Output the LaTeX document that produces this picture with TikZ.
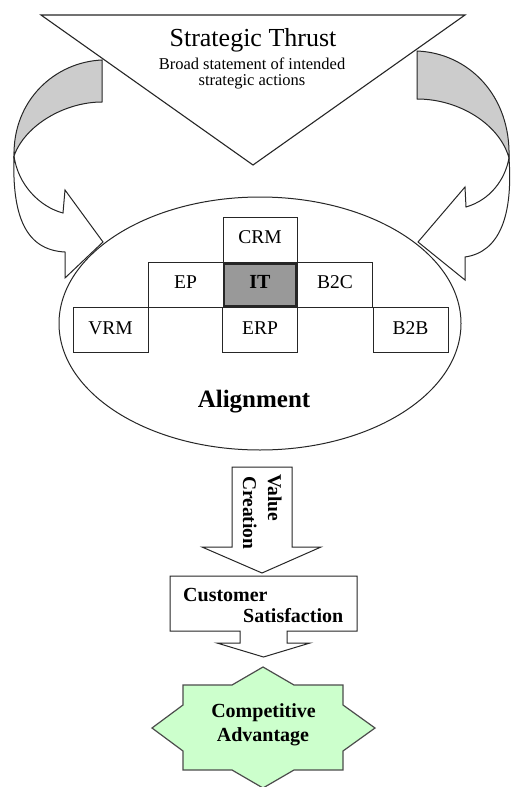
\documentclass[tikz,border=0pt]{standalone}
\usepackage{fontspec}
\setmainfont{Liberation Serif}
\usetikzlibrary{shapes.geometric}
\definecolor{starfill}{HTML}{CCFFCC}
\definecolor{itfill}{HTML}{999999}
\definecolor{facefill}{HTML}{CCCCCC}
\definecolor{edge}{HTML}{262626}
\tikzset{
  ln/.style={draw=edge, line width=1pt, line join=miter},
  cell/.style={draw=edge, line width=1pt, fill=white, minimum width=75pt, minimum height=45pt,
    inner sep=0pt, text height=13pt, text depth=5pt, font=\fontsize{19.5}{22}\selectfont},
  bold20/.style={font=\bfseries\fontsize{20}{22}\selectfont},
}
\begin{document}
\begin{tikzpicture}[x=1pt,y=-1pt]
\useasboundingbox (0,0) rectangle (512,787);

% Strategic thrust triangle
\draw[ln, fill=white, line width=1.1pt] (41,15) -- (465,15) -- (253,165) -- cycle;
\node[anchor=base, inner sep=0pt, font=\fontsize{26}{28}\selectfont] (st) at (253,46) {Strategic Thrust};
\node[anchor=base, inner sep=0pt, font=\fontsize{16.5}{18}\selectfont] (bs1) at (252,69) {Broad statement of intended};
\node[anchor=base, inner sep=0pt, font=\fontsize{16.5}{18}\selectfont] (bs2) at (252,85) {strategic actions};

% Alignment ellipse
\node[ellipse, draw=edge, line width=1pt, fill=white, minimum width=402pt, minimum height=253pt, inner sep=0pt] (ell) at (260,323.5) {};

% left curved arrow
\draw[ln, fill=white] (14,156) .. controls (12,215) and (25,250) .. (65,252) -- (65,278) -- (103,242) -- (65,190) -- (63,213) .. controls (40,207) and (18,185) .. (14,156) -- cycle;
\draw[ln, fill=facefill] (102,60) .. controls (55,62) and (13,100) .. (14,156) .. controls (25,125) and (65,102) .. (102,102) -- cycle;

% right curved arrow
\draw[ln, fill=white] (509,158) .. controls (513,215) and (500,252) .. (465,257) -- (465,280) -- (418,242) -- (465,187) -- (466,207) .. controls (490,200) and (505,180) .. (509,158) -- cycle;
\draw[ln, fill=facefill] (417,51) .. controls (468,53) and (511,95) .. (509,158) .. controls (500,125) and (460,99) .. (417,99) -- cycle;

% boxes
\node[cell, minimum width=74pt] (crm) at (260,239.5) {CRM};
\node[cell] (ep)  at (185.5,284.5) {EP};
\node[cell] (b2c) at (335,284.5) {B2C};
\node[cell] (vrm) at (110.5,330) {VRM};
\node[cell] (erp) at (260,330) {ERP};
\node[cell] (b2b) at (410.5,330) {B2B};
\node[cell, fill=itfill, line width=2.5pt, minimum width=72.5pt, minimum height=42.5pt, font=\bfseries\fontsize{20}{22}\selectfont] (it) at (260,284.5) {IT};

\node[anchor=base, inner sep=0pt, font=\bfseries\fontsize{25}{28}\selectfont] (al) at (254,407) {Alignment};

% value creation arrow
\draw[ln, fill=white] (232,467) -- (292,467) -- (292,547) -- (321,547) -- (262,573) -- (202,547) -- (232,547) -- cycle;
\node[rotate=-90, anchor=base west, inner sep=0pt, font=\bfseries\fontsize{19.5}{22}\selectfont] (vc1) at (268,474) {Value};
\node[rotate=-90, anchor=base west, inner sep=0pt, font=\bfseries\fontsize{19.5}{22}\selectfont] (vc2) at (243,476) {Creation};

% customer satisfaction callout
\draw[ln, fill=white] (170,576) -- (357,576) -- (357,631) -- (287,631) -- (287,643) -- (310,643) -- (263.5,657) -- (217,643) -- (240,643) -- (240,631) -- (170,631) -- cycle;
\node[anchor=base west, inner sep=0pt, bold20] (cs1) at (183,601) {Customer};
\node[anchor=base west, inner sep=0pt, bold20] (cs2) at (243,622) {Satisfaction};

% competitive advantage star
\draw[draw=black!70, line width=1.2pt, line join=miter, fill=starfill] (263,667) -- (294,685) -- (343,685) -- (343,705) -- (375,728) -- (343,751) -- (343,770) -- (294,770) -- (263,788) -- (232,770) -- (183,770) -- (183,751) -- (152,728) -- (183,705) -- (183,685) -- (232,685) -- cycle;
\node[anchor=base, inner sep=0pt, bold20] (ca1) at (263.5,717) {Competitive};
\node[anchor=base, inner sep=0pt, bold20] (ca2) at (263,741) {Advantage};
\end{tikzpicture}
\end{document}
